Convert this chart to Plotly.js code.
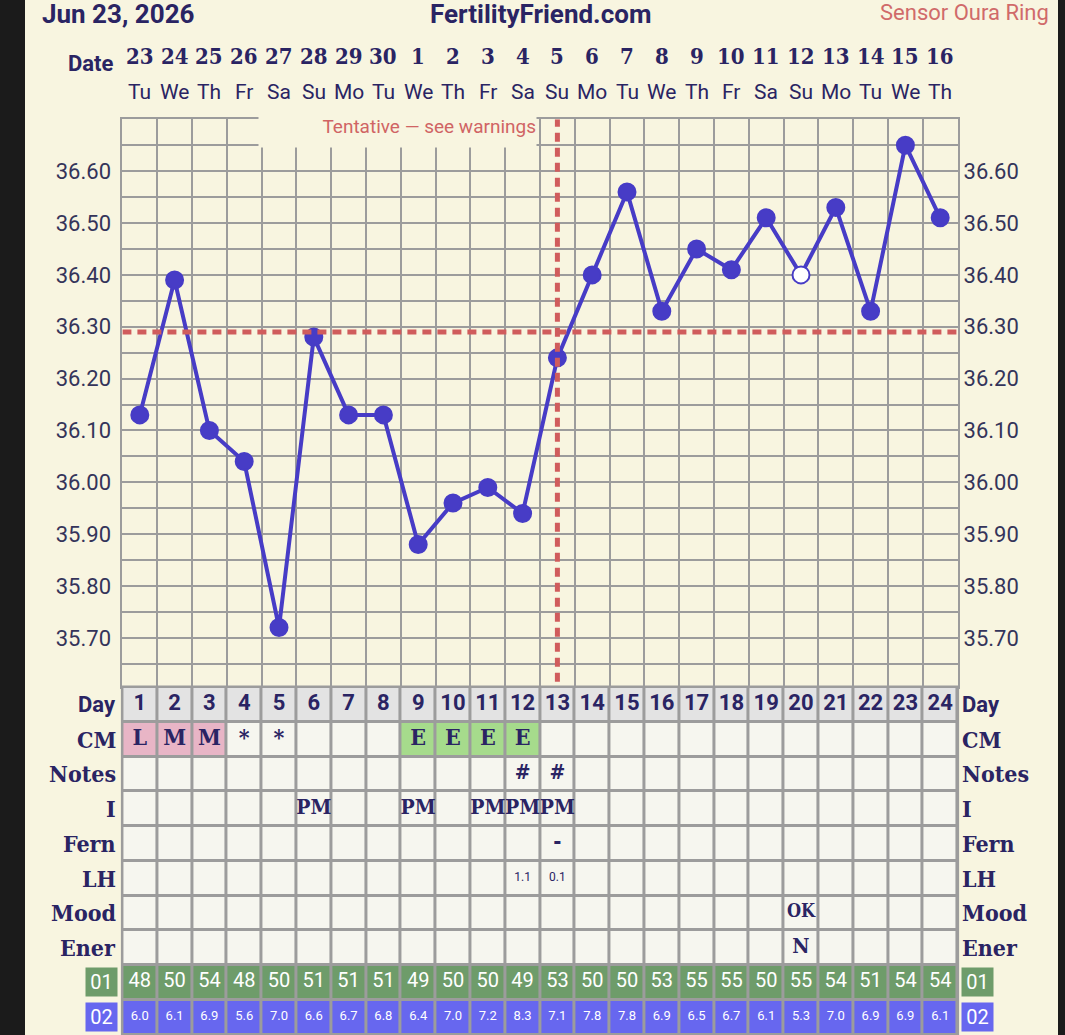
<!DOCTYPE html>
<html><head><meta charset="utf-8">
<script src="https://cdn.plot.ly/plotly-3.0.1.min.js"></script>
<style>html,body{margin:0;padding:0;background:#f8f5e0;}</style>
</head><body><div id="chart" style="width:1065px;height:1035px;"></div>
<script>
// ---------- data ----------
const dayNums = [1,2,3,4,5,6,7,8,9,10,11,12,13,14,15,16,17,18,19,20,21,22,23,24];
const dates = ['23','24','25','26','27','28','29','30','1','2','3','4','5','6','7','8','9','10','11','12','13','14','15','16'];
const weekdays = ['Tu','We','Th','Fr','Sa','Su','Mo','Tu','We','Th','Fr','Sa','Su','Mo','Tu','We','Th','Fr','Sa','Su','Mo','Tu','We','Th'];
const temps = [36.13,36.39,36.10,36.04,35.72,36.28,36.13,36.13,35.88,35.96,35.99,35.94,36.24,36.40,36.56,36.33,36.45,36.41,36.51,36.40,36.53,36.33,36.65,36.51];
const openTempDays = [20];
const coverline = 36.29;
const ovulationDay = 13;
const yTickLabels = ['35.70','35.80','35.90','36.00','36.10','36.20','36.30','36.40','36.50','36.60'];
const cm = ['L','M','M','*','*','','','','E','E','E','E','','','','','','','','','','','',''];
const notes = ['','','','','','','','','','','','#','#','','','','','','','','','','',''];
const intercourse = ['','','','','','PM','','','PM','','PM','PM','PM','','','','','','','','','','',''];
const fern = ['','','','','','','','','','','','','-','','','','','','','','','','',''];
const lh = ['','','','','','','','','','','','1.1','0.1','','','','','','','','','','',''];
const mood = ['','','','','','','','','','','','','','','','','','','','OK','','','',''];
const energy = ['','','','','','','','','','','','','','','','','','','','N','','','',''];
const sensor01 = [48,50,54,48,50,51,51,51,49,50,50,49,53,50,50,53,55,55,50,55,54,51,54,54];
const sensor02 = [6.0,6.1,6.9,5.6,7.0,6.6,6.7,6.8,6.4,7.0,7.2,8.3,7.1,7.8,7.8,6.9,6.5,6.7,6.1,5.3,7.0,6.9,6.9,6.1];
const rowLabels = ['Day','CM','Notes','I','Fern','LH','Mood','Ener','01','02'];
const headerDate = 'Jun 23, 2026';
const headerSite = 'FertilityFriend.com';
const headerSensor = 'Sensor Oura Ring';
const tentativeText = 'Tentative — see warnings';

// ---------- style ----------
const W = 1065, H = 1035;
const px = v => v / W, py = v => 1 - v / H;
const CREAM = '#f8f5e0', NAVY = '#2a2463', GRID = '#9c9c9c', RED = '#d05c5c', LINE = '#473cc6';
const SLAB = '"DejaVu Serif Condensed", "DejaVu Serif", serif';
const SANS = 'Roboto, "Noto Sans", sans-serif';
const yTop = 36.70, yBot = 36.70 - (687 - 119.3) / 518.6;
const xDom = [px(122.4), px(957.6)];

const yTickVals = yTickLabels.map(parseFloat);

// ---------- traces ----------
const traces = [];
traces.push({
  x: dayNums, y: temps, type: 'scatter', mode: 'lines+markers',
  line: {color: LINE, width: 4},
  marker: {size: 17, color: dayNums.map(d => openTempDays.includes(d) ? '#ffffff' : LINE), line: {color: LINE, width: 2}},
  hoverinfo: 'skip', showlegend: false, cliponaxis: false
});
traces.push({x: dayNums, y: temps, yaxis: 'y3', type: 'scatter', mode: 'lines', opacity: 0, line: {width: 0}, hoverinfo: 'skip', showlegend: false});

// table cell classes: 0 blank,1 day,2 pink,3 green E,4 sensor01,5 sensor02
const cmClass = v => (v === 'L' || v === 'M') ? 2 : (v === 'E' ? 3 : 0);
const z = rowLabels.map((r, i) => dayNums.map((d, j) => {
  if (i === 0) return 1;
  if (i === 1) return cmClass(cm[j]);
  if (i === 8) return 4;
  if (i === 9) return 5;
  return 0;
}));
const cellColors = ['#f6f6ef', '#e3e3e3', '#e8b5c6', '#a6db8c', '#6e9c6a', '#6767ef'];
const cs = [];
cellColors.forEach((c, k) => { cs.push([k / 6, c]); cs.push([(k + 1) / 6, c]); });
traces.push({
  type: 'heatmap', x: dayNums, y: rowLabels.map((r, i) => i), z: z,
  xaxis: 'x2', yaxis: 'y2', zmin: -0.5, zmax: 5.5, colorscale: cs, showscale: false,
  xgap: 3, ygap: 3, hoverinfo: 'skip'
});
function textRow(row, texts, font) {
  traces.push({
    type: 'scatter', mode: 'text', x: dayNums, y: dayNums.map(() => row), text: texts,
    textposition: 'middle center', textfont: font, xaxis: 'x2', yaxis: 'y2',
    hoverinfo: 'skip', showlegend: false, cliponaxis: false
  });
}
textRow(0, dayNums.map(String), {family: SANS, size: 22, color: NAVY, weight: 700});
textRow(1, cm, {family: SLAB, size: 23, color: NAVY, weight: 700});
textRow(2, notes, {family: SLAB, size: 21, color: NAVY, weight: 700});
textRow(3, intercourse, {family: SLAB, size: 21, color: NAVY, weight: 700});
textRow(4, fern, {family: SLAB, size: 22, color: NAVY, weight: 700});
textRow(5, lh, {family: SANS, size: 12, color: NAVY});
textRow(6, mood, {family: SLAB, size: 18, color: NAVY, weight: 700});
textRow(7, energy, {family: SLAB, size: 21, color: NAVY, weight: 700});
textRow(8, sensor01.map(String), {family: SANS, size: 20, color: '#ffffff'});
textRow(9, sensor02.map(v => v.toFixed(1)), {family: SANS, size: 13, color: '#ffffff'});

// ---------- annotations ----------
const ann = [];
ann.push({xref: 'paper', yref: 'paper', x: px(40), y: py(14), xanchor: 'left', yanchor: 'middle', text: '<b>' + headerDate + '</b>', showarrow: false, font: {family: SANS, size: 26, color: NAVY}});
ann.push({xref: 'paper', yref: 'paper', x: px(540), y: py(14), xanchor: 'center', yanchor: 'middle', text: '<b>' + headerSite + '</b>', showarrow: false, font: {family: SANS, size: 26, color: NAVY}});
ann.push({xref: 'paper', yref: 'paper', x: px(1051), y: py(12), xanchor: 'right', yanchor: 'middle', text: headerSensor, showarrow: false, font: {family: SANS, size: 22, color: '#d06a6a'}});
ann.push({xref: 'paper', yref: 'paper', x: px(116), y: py(64), xanchor: 'right', yanchor: 'middle', text: '<b>Date</b>', showarrow: false, font: {family: SANS, size: 22, color: NAVY}});
dayNums.forEach((d, j) => {
  ann.push({xref: 'x', yref: 'paper', x: d, y: py(56), xanchor: 'center', yanchor: 'middle', text: '<b>' + dates[j] + '</b>', showarrow: false, font: {family: SLAB, size: 22, color: NAVY}});
  ann.push({xref: 'x', yref: 'paper', x: d, y: py(92), xanchor: 'center', yanchor: 'middle', text: weekdays[j], showarrow: false, font: {family: SANS, size: 21, color: NAVY}});
});
ann.push({xref: 'paper', yref: 'paper', x: px(258), y: py(114), xanchor: 'left', yanchor: 'top', width: 277, height: 32, align: 'right', valign: 'top', bgcolor: CREAM, borderpad: 0, text: tentativeText, showarrow: false, font: {family: SANS, size: 19, color: '#d06464'}});
rowLabels.forEach((r, i) => {
  if (i >= 8) {
    const bg = i === 8 ? '#6e9c6a' : '#6767ef';
    ann.push({xref: 'paper', yref: 'y2', x: px(117.5), y: i, xanchor: 'right', yanchor: 'middle', text: r, showarrow: false, bgcolor: bg, width: 31, height: 28, borderpad: 0, font: {family: SANS, size: 20, color: '#ffffff'}});
    ann.push({xref: 'paper', yref: 'y2', x: px(961), y: i, xanchor: 'left', yanchor: 'middle', text: r, showarrow: false, bgcolor: bg, width: 31, height: 28, borderpad: 0, font: {family: SANS, size: 20, color: '#ffffff'}});
  } else {
    const f = i === 0 ? {family: SANS, size: 22, color: NAVY, weight: 700} : {family: SLAB, size: 23, color: NAVY, weight: 700};
    ann.push({xref: 'paper', yref: 'y2', x: px(118), y: i, xanchor: 'right', yanchor: 'middle', text: '<b>' + r + '</b>', showarrow: false, font: f});
    ann.push({xref: 'paper', yref: 'y2', x: px(960), y: i, xanchor: 'left', yanchor: 'middle', text: '<b>' + r + '</b>', showarrow: false, font: f});
  }
});

// ---------- shapes ----------
const shapes = [
  {type: 'rect', xref: 'paper', yref: 'paper', x0: px(120.9), x1: px(959.1), y0: 0, y1: py(685.6), fillcolor: GRID, line: {width: 0}, layer: 'below'},
  {type: 'line', xref: 'x', yref: 'y', x0: 0.5, x1: 24.5, y0: coverline, y1: coverline, line: {color: RED, width: 5, dash: '9px,6px'}, layer: 'above'},
  {type: 'line', xref: 'x', yref: 'y', x0: ovulationDay, x1: ovulationDay, y0: yBot + 0.01, y1: yTop, line: {color: RED, width: 5, dash: '9px,6px'}, layer: 'above'},
  {type: 'rect', xref: 'paper', yref: 'paper', x0: 0, x1: px(25), y0: 0, y1: 1, fillcolor: '#1b1b1b', line: {width: 0}, layer: 'above'},
  {type: 'rect', xref: 'paper', yref: 'paper', x0: px(1058), x1: 1, y0: 0, y1: 1, fillcolor: '#1b1b1b', line: {width: 0}, layer: 'above'}
];

const yCommon = {
  range: [yBot, yTop], tickmode: 'array', tickvals: yTickVals, ticktext: yTickLabels,
  tickfont: {family: SANS, size: 22, color: '#34345a'}, ticks: '', ticklabelstandoff: 5, zeroline: false, fixedrange: true
};
const layout = {
  width: W, height: H, autosize: false, margin: {l: 0, r: 0, t: 0, b: 0, pad: 0},
  paper_bgcolor: CREAM, plot_bgcolor: CREAM, showlegend: false,
  xaxis: {domain: xDom, range: [0.5, 24.5], tickmode: 'linear', tick0: 0.5, dtick: 1, showticklabels: false, ticks: '',
    showgrid: true, gridcolor: GRID, gridwidth: 2, zeroline: false, showline: true, mirror: true, linecolor: GRID, linewidth: 2, anchor: 'y', fixedrange: true},
  yaxis: Object.assign({}, yCommon, {domain: [py(687), py(119.3)], side: 'left', anchor: 'x',
    showgrid: true, gridcolor: GRID, gridwidth: 2, showline: true, mirror: true, linecolor: GRID, linewidth: 2,
    minor: {tick0: 35.6, dtick: 0.05, showgrid: true, gridcolor: GRID, gridwidth: 2, ticks: ''}}),
  yaxis3: Object.assign({}, yCommon, {overlaying: 'y', side: 'right', anchor: 'x', showgrid: false, showline: false}),
  xaxis2: {domain: xDom, range: [0.5, 24.5], anchor: 'y2', visible: false, fixedrange: true},
  yaxis2: {domain: [py(1034.5), py(687)], range: [9.5, -0.5], anchor: 'x2', visible: false, fixedrange: true},
  annotations: ann, shapes: shapes
};
Plotly.newPlot('chart', traces, layout, {displayModeBar: false, staticPlot: true});
</script></body></html>
